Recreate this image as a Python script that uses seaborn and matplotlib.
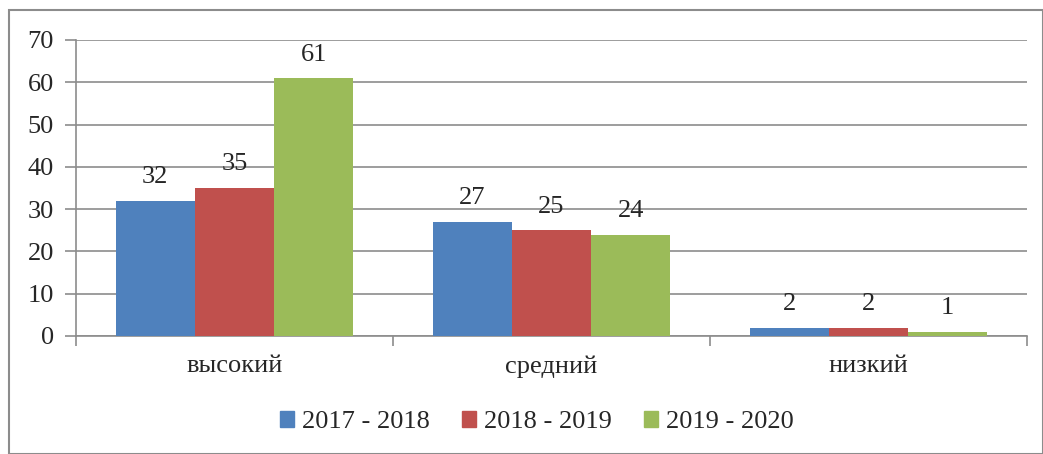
import matplotlib.pyplot as plt
import pandas as pd
import seaborn as sns
from matplotlib.patches import Rectangle

categories = ["высокий", "средний", "низкий"]
years = ["2017 - 2018", "2018 - 2019", "2019 - 2020"]
values_2017 = [32, 27, 2]
values_2018 = [35, 25, 2]
values_2019 = [61, 24, 1]
colors = ["#4F81BD", "#C0504D", "#9BBB59"]

df = pd.DataFrame({
    "level": categories * 3,
    "year": [years[0]] * 3 + [years[1]] * 3 + [years[2]] * 3,
    "value": values_2017 + values_2018 + values_2019,
})

sns.set_theme(style="white")
plt.rcParams["font.family"] = ["Liberation Serif", "DejaVu Serif"]

fig = plt.figure(figsize=(10.43, 4.54), dpi=100)
ax = fig.add_axes([76 / 1043, 118 / 454, 951 / 1043, 296 / 454])

sns.barplot(data=df, x="level", y="value", hue="year", palette=colors,
            width=0.75, saturation=1, linewidth=0, ax=ax, legend=False, zorder=3)

ax.set_ylim(0, 70)
ax.set_xlim(-0.5, 2.5)
ax.set_yticks(range(0, 71, 10))
ax.grid(axis="y", color="#8c8c8c", linewidth=1.2, zorder=0)
ax.set_xlabel("")
ax.set_ylabel("")

for s in ["top", "right"]:
    ax.spines[s].set_visible(False)
for s in ["left", "bottom"]:
    ax.spines[s].set_color("#8c8c8c")
    ax.spines[s].set_linewidth(1.2)

ax.tick_params(axis="y", which="major", length=8, width=1.2, color="#8c8c8c",
               labelsize=19, pad=8, left=True)
ax.tick_params(axis="x", which="major", length=0, labelsize=19, pad=14)
ax.set_xticks([-0.5, 0.5, 1.5, 2.5], minor=True)
ax.tick_params(axis="x", which="minor", length=7, width=1.2, color="#8c8c8c",
               bottom=True)

for container in ax.containers:
    ax.bar_label(container, fontsize=19, padding=9)

handles = [Rectangle((0, 0), 1, 1, color=c) for c in colors]
fig.legend(handles, years, loc="center", bbox_to_anchor=(537 / 1043, 1 - 422 / 454),
           ncol=3, frameon=False, fontsize=19, handlelength=0.55, handleheight=0.55,
           handletextpad=0.3, columnspacing=1.2)

fig.patches.append(Rectangle((9 / 1043, 0), 1034 / 1043, 1 - 10 / 454,
                             transform=fig.transFigure, fill=False,
                             edgecolor="#8c8c8c", linewidth=1.5))

fig.savefig("out.png", dpi=100)
